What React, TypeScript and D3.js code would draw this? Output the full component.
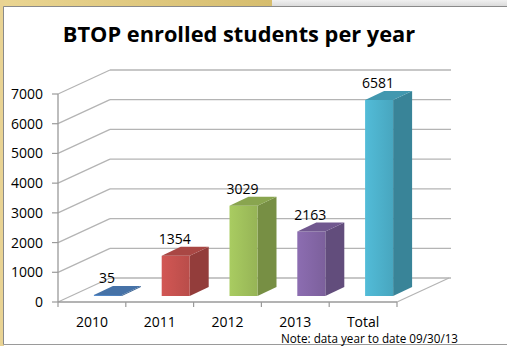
import React from "react";
import * as d3 from "d3";

const categories = ["2010", "2011", "2012", "2013", "Total"];
const values = [35, 1354, 3029, 2163, 6581];
const yTicks = [0, 1000, 2000, 3000, 4000, 5000, 6000, 7000];
const frontColors = ["#4f81bd", "#c0504d", "#9bbb59", "#8064a2", "#4bacc6"];
const title = "BTOP enrolled students per year";
const note = "Note: data year to date 09/30/13";

const W = 507;
const H = 346;
const FONT = "'Open Sans', Lato, sans-serif";

export default function App() {
  const x = d3.scaleBand<string>().domain(categories).range([58, 397]).padding(0);
  const y = d3.scaleLinear().domain([0, 7000]).range([302, 94]);
  const yBar = d3.scaleLinear().domain([0, 7000]).range([296, 296 - 7000 * 0.0298]);
  const DX = 52, DY = -24; // wall depth
  const BDX = 19, BDY = -9; // bar depth
  const barW = 28;
  const grid = "#b4b4b4";

  return (
    <svg width={W} height={H} style={{ position: "absolute", left: 0, top: 0 }}>
      <defs>
        <linearGradient id="gold" x1="0" x2="1" y1="0" y2="0">
          <stop offset="0" stopColor="#ead592" />
          <stop offset="1" stopColor="#d6bd6e" />
        </linearGradient>
        <linearGradient id="grayTop" x1="0" x2="0" y1="0" y2="1">
          <stop offset="0" stopColor="#f0f0f0" />
          <stop offset="1" stopColor="#d8d8d8" />
        </linearGradient>
        {frontColors.map((c, i) => (
          <linearGradient key={i} id={`fg${i}`} x1="0" x2="1" y1="0" y2="0">
            <stop offset="0" stopColor={d3.color(c)!.brighter(0.25).formatHex()} />
            <stop offset="1" stopColor={d3.color(c)!.darker(0.1).formatHex()} />
          </linearGradient>
        ))}
      </defs>
      <rect x={0} y={0} width={W} height={H} fill="#ffffff" />
      <rect x={0} y={0} width={272} height={7} fill="url(#gold)" />
      <rect x={272} y={0} width={W - 272} height={7} fill="url(#grayTop)" />
      <rect x={0} y={0} width={4} height={H} fill="#e9d393" />
      <line x1={3.5} y1={6.5} x2={W} y2={6.5} stroke="#8a8a8a" strokeWidth={1} />
      <line x1={3.5} y1={6.5} x2={3.5} y2={344.5} stroke="#8a8a8a" strokeWidth={1} />
      <line x1={3.5} y1={344.5} x2={W} y2={344.5} stroke="#9a9a9a" strokeWidth={1} />

      <text x={239} y={42} textAnchor="middle" fontFamily={FONT} fontWeight="bold" fontSize={21.8} fill="#000">
        {title}
      </text>

      {/* back wall gridlines and left wall diagonals */}
      {yTicks.map((t) => (
        <g key={t}>
          <line x1={58} y1={y(t)} x2={58 + DX} y2={y(t) + DY} stroke={grid} strokeWidth={1.3} />
          <line x1={58 + DX} y1={y(t) + DY} x2={397 + DX + 2} y2={y(t) + DY} stroke={grid} strokeWidth={1.3} />
        </g>
      ))}
      {/* floor right edge and front edge */}
      <line x1={397} y1={302} x2={397 + DX} y2={302 + DY} stroke={grid} strokeWidth={1.3} />
      <line x1={58} y1={302} x2={397} y2={302} stroke="#9a9a9a" strokeWidth={1.3} />
      {/* front vertical axis */}
      <line x1={58} y1={y(7000)} x2={58} y2={302} stroke="#9a9a9a" strokeWidth={1.3} />
      {yTicks.map((t) => (
        <g key={`yt${t}`}>
          <line x1={52} y1={y(t)} x2={58} y2={y(t)} stroke="#9a9a9a" strokeWidth={1.2} />
          <text x={43} y={y(t) + 5} textAnchor="end" fontFamily={FONT} fontSize={14} fill="#000">
            {t}
          </text>
        </g>
      ))}
      {/* category ticks */}
      {[...categories.map((c) => x(c)!), 397].map((px, i) => (
        <line key={`ct${i}`} x1={px} y1={302} x2={px} y2={307} stroke="#9a9a9a" strokeWidth={1.2} />
      ))}

      {/* bars */}
      {categories.map((c, i) => {
        const cx = x(c)! + x.bandwidth() / 2;
        const l = cx + 2;
        const r = l + barW;
        const b = 296;
        const t = yBar(values[i]);
        const base = d3.color(frontColors[i])!;
        const side = base.darker(0.75).formatHex();
        const top = base.darker(0.35).formatHex();
        const front = `M${l},${b}L${r},${b}L${r},${t}L${l},${t}Z`;
        const sideP = `M${r},${b}L${r + BDX},${b + BDY}L${r + BDX},${t + BDY}L${r},${t}Z`;
        const topP = `M${l},${t}L${r},${t}L${r + BDX},${t + BDY}L${l + BDX},${t + BDY}Z`;
        return (
          <g key={c}>
            <path d={sideP} fill={side} />
            <path d={front} fill={`url(#fg${i})`} />
            <path d={topP} fill={top} />
            <text x={cx + 15} y={t + BDY - 3} textAnchor="middle" fontFamily={FONT} fontSize={14} fill="#000">
              {values[i]}
            </text>
          </g>
        );
      })}

      {categories.map((c) => (
        <text key={`cl${c}`} x={x(c)! + x.bandwidth() / 2} y={326.5} textAnchor="middle" fontFamily={FONT} fontSize={14} fill="#000">
          {c}
        </text>
      ))}
      <text x={281} y={343} fontFamily={FONT} fontSize={11.7} fill="#000">
        {note}
      </text>
    </svg>
  );
}
